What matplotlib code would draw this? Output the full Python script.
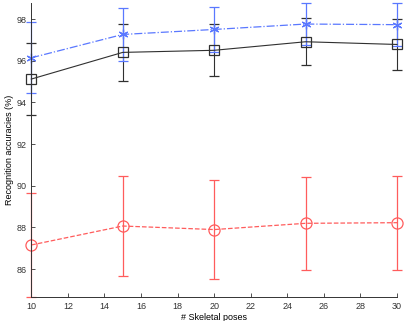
import numpy as np
import matplotlib
matplotlib.use("Agg")
import matplotlib.pyplot as plt

plt.rcParams['font.family'] = ['Liberation Sans', 'DejaVu Sans']

# number of skeletal poses
poses = [10, 15, 20, 25, 30]

# accuracies (%) and std
acc_star = [96.14, 97.26, 97.50, 97.76, 97.73]
err_star = [1.70, 1.25, 1.10, 1.00, 1.02]

acc_square = [95.12, 96.40, 96.50, 96.91, 96.78]
err_square = [1.74, 1.38, 1.24, 1.13, 1.23]

acc_circle = [87.16, 88.07, 87.90, 88.20, 88.23]
err_circle = [2.48, 2.40, 2.37, 2.22, 2.25]

fig = plt.figure(figsize=(4.09, 3.21), dpi=100)
ax = fig.add_axes([0.0765, 0.0738, 0.8942, 0.9169])

series = [
    (acc_circle, err_circle, dict(color='#ff5c5c', ls='--', marker='o', mfc='none', ms=8, lw=0.9)),
    (acc_square, err_square, dict(color='#303030', ls='-', marker='s', mfc='none', ms=7, lw=0.8)),
    (acc_star, err_star, dict(color='#5a78ff', ls='-.', marker=(6, 2, 0), ms=7, lw=0.9)),
]
for acc, err, style in series:
    eb = ax.errorbar(poses, acc, yerr=err, mew=0.9, capsize=3.5,
                     elinewidth=style['lw'], **style)
    for art in eb.lines[1] + eb.lines[2] + (eb.lines[0],):
        art.set_clip_on(False)

ax.set_xlim(10, 30)
ax.set_ylim(84.65, 98.77)
ax.set_xticks(np.arange(10, 31, 2))
ax.set_yticks(np.arange(86, 99, 2))
ax.tick_params(direction='in', labelsize=6.5, length=3, width=0.6, colors='#333333')
for side in ['top', 'right']:
    ax.spines[side].set_visible(False)
for side in ['left', 'bottom']:
    ax.spines[side].set_color('#333333')
    ax.spines[side].set_linewidth(0.7)

ax.set_xlabel('# Skeletal poses', fontsize=6.5, labelpad=1)
ax.set_ylabel('Recognition accuracies (%)', fontsize=6.5, labelpad=2)

fig.savefig('out.png', dpi=100)
